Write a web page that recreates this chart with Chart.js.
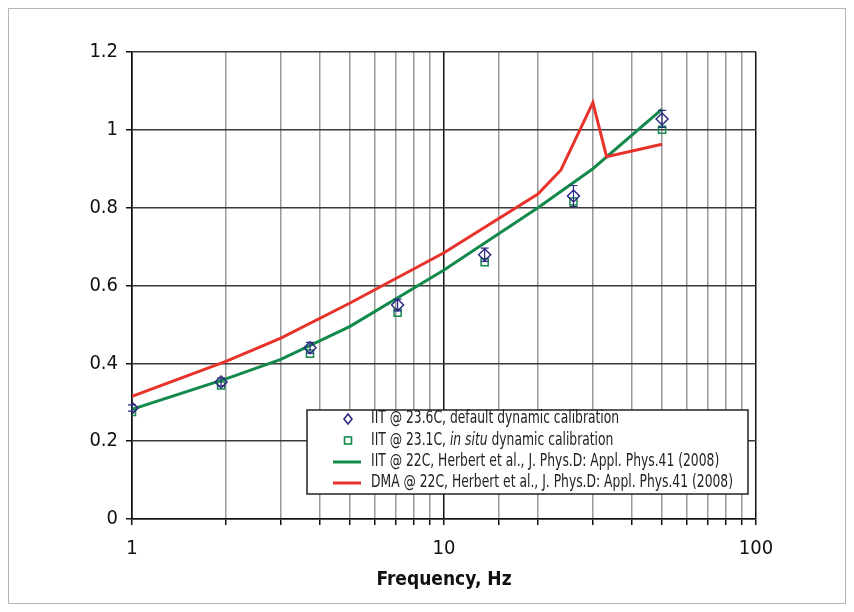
<!DOCTYPE html>
<html>
<head>
<meta charset="utf-8">
<script src="https://cdn.jsdelivr.net/npm/chart.js@4"></script>
<style>
  html, body { margin: 0; padding: 0; background: #fff; }
  #wrap { position: relative; width: 854px; height: 612px; }
  #frame { position: absolute; left: 8px; top: 8px; width: 836px; height: 594px; border: 1px solid #b5b5b5; pointer-events: none; }
</style>
</head>
<body>
<div id="wrap">
  <canvas id="freqChart" width="854" height="612"></canvas>
  <div id="frame"></div>
</div>
<script>
// measured IIT points (frequency, Hz)
const freqIIT = [1, 1.93, 3.72, 7.1, 13.5, 26, 50];
const iitDefault = [0.285, 0.352, 0.44, 0.55, 0.679, 0.83, 1.028];
const iitDefaultErr = [0.008, 0.01, 0.014, 0.015, 0.017, 0.027, 0.022];
const iitInSitu = [0.275, 0.343, 0.425, 0.53, 0.66, 0.816, 1.0];

// Herbert et al. curves
const freqHerbertIIT = [1, 2, 3, 5, 10, 20, 30, 50];
const herbertIIT = [0.282, 0.36, 0.41, 0.495, 0.64, 0.8, 0.9, 1.053];
const freqDMA = [1, 2, 3, 5, 10, 20, 23.7, 30, 33.2, 50];
const herbertDMA = [0.315, 0.405, 0.465, 0.555, 0.684, 0.835, 0.897, 1.07, 0.931, 0.963];

const decadeTicks = [1, 10, 100];
const yTicks = [0, 0.2, 0.4, 0.6, 0.8, 1, 1.2];

const labels = [
  'IIT @ 23.6C, default dynamic calibration',
  'IIT @ 23.1C, in situ dynamic calibration',
  'IIT @ 22C, Herbert et al., J. Phys.D: Appl. Phys.41 (2008)',
  'DMA @ 22C, Herbert et al., J. Phys.D: Appl. Phys.41 (2008)'
];

const NAVY = '#2c2a80';
const GREEN = '#138a4b';
const RED = '#e8332d';
const FONT = "'Liberation Sans Narrow', 'DejaVu Sans Condensed', 'Liberation Sans', sans-serif";

const pts = (xs, ys) => xs.map((x, i) => ({ x, y: ys[i] }));

// error bars on the default calibration points
const errorBars = {
  id: 'errorBars',
  afterDatasetsDraw(chart) {
    const { ctx, scales: { x, y } } = chart;
    ctx.save();
    ctx.strokeStyle = NAVY;
    ctx.lineWidth = 1.2;
    freqIIT.forEach((f, i) => {
      const px = x.getPixelForValue(f);
      const top = y.getPixelForValue(iitDefault[i] + iitDefaultErr[i]);
      const bot = y.getPixelForValue(iitDefault[i] - iitDefaultErr[i]);
      ctx.beginPath();
      ctx.moveTo(px, top); ctx.lineTo(px, bot);
      ctx.moveTo(px - 4, top); ctx.lineTo(px + 4, top);
      ctx.moveTo(px - 4, bot); ctx.lineTo(px + 4, bot);
      ctx.stroke();
    });
    ctx.restore();
  }
};

// boxed legend inside the plot
const boxLegend = {
  id: 'boxLegend',
  afterDraw(chart) {
    const { ctx } = chart;
    const bx = 307, by = 410, bw = 441, bh = 84;
    ctx.save();
    ctx.fillStyle = '#fff';
    ctx.fillRect(bx, by, bw, bh);
    ctx.strokeStyle = '#222';
    ctx.lineWidth = 1.5;
    ctx.strokeRect(bx, by, bw, bh);
    const rows = [419, 440.5, 462, 483];
    const mx = 348, tx = 371;
    // row 1: diamond
    ctx.strokeStyle = NAVY; ctx.lineWidth = 1.6;
    ctx.beginPath();
    ctx.moveTo(mx, rows[0] - 5); ctx.lineTo(mx + 4, rows[0]);
    ctx.lineTo(mx, rows[0] + 5); ctx.lineTo(mx - 4, rows[0]); ctx.closePath();
    ctx.stroke();
    // row 2: square
    ctx.strokeStyle = GREEN;
    ctx.strokeRect(mx - 3.5, rows[1] - 3.5, 7, 7);
    // rows 3/4: lines
    [[GREEN, rows[2]], [RED, rows[3]]].forEach(([c, ry]) => {
      ctx.strokeStyle = c; ctx.lineWidth = 3;
      ctx.beginPath(); ctx.moveTo(333, ry); ctx.lineTo(361, ry); ctx.stroke();
    });
    const reg = '17px ' + FONT, ita = 'italic 17px ' + FONT;
    ctx.font = reg;
    const sx = 362 / ctx.measureText(labels[3]).width;
    ctx.textBaseline = 'middle';
    ctx.fillStyle = '#222';
    ctx.translate(tx, 0);
    ctx.scale(sx, 1);
    ctx.fillText(labels[0], 0, rows[0]);
    // row 2 with italic "in situ"
    let cx = 0;
    const parts = [['IIT @ 23.1C, ', reg], ['in situ', ita], [' dynamic calibration', reg]];
    parts.forEach(([t, f]) => { ctx.font = f; ctx.fillText(t, cx, rows[1]); cx += ctx.measureText(t).width; });
    ctx.font = reg;
    ctx.fillText(labels[2], 0, rows[2]);
    ctx.fillText(labels[3], 0, rows[3]);
    ctx.restore();
  }
};

new Chart(document.getElementById('freqChart'), {
  type: 'scatter',
  data: {
    datasets: [
      {
        label: labels[0],
        data: pts(freqIIT, iitDefault),
        pointStyle: 'rectRot',
        pointRadius: 6,
        borderColor: NAVY,
        backgroundColor: 'rgba(0,0,0,0)',
        pointBorderWidth: 1.5,
        order: 0
      },
      {
        label: labels[1],
        data: pts(freqIIT, iitInSitu),
        pointStyle: 'rect',
        pointRadius: 5,
        borderColor: GREEN,
        backgroundColor: 'rgba(0,0,0,0)',
        pointBorderWidth: 1.5,
        order: 1
      },
      {
        label: labels[2],
        data: pts(freqHerbertIIT, herbertIIT),
        showLine: true,
        borderColor: GREEN,
        borderWidth: 3,
        pointRadius: 0,
        order: 3
      },
      {
        label: labels[3],
        data: pts(freqDMA, herbertDMA),
        showLine: true,
        borderColor: RED,
        borderWidth: 3,
        pointRadius: 0,
        order: 2
      }
    ]
  },
  options: {
    responsive: false,
    animation: false,
    layout: { padding: { left: 0, right: 98, top: 52, bottom: 0 } },
    plugins: {
      legend: { display: false },
      tooltip: { enabled: false }
    },
    scales: {
      x: {
        type: 'logarithmic',
        min: 1,
        max: 100,
        afterFit: s => { s.height = 93; },
        border: { color: '#111', width: 1.5 },
        grid: {
          color: c => decadeTicks.includes(c.tick && c.tick.value) ? '#111' : '#9a9a9a',
          lineWidth: 1.5,
          tickLength: 6,
          tickColor: '#111'
        },
        ticks: {
          autoSkip: false,
          maxRotation: 0,
          padding: 12,
          color: '#111',
          font: { family: FONT, size: 20 },
          callback: v => decadeTicks.includes(v) ? String(v) : ''
        },
        title: {
          display: true,
          text: 'Frequency, Hz',
          color: '#111',
          font: { family: FONT, size: 19, weight: 'bold' },
          padding: { top: 0, bottom: 21 }
        }
      },
      y: {
        min: 0,
        max: 1.2,
        afterFit: s => { s.width = 132; },
        afterBuildTicks: s => { s.ticks = yTicks.map(v => ({ value: v })); },
        border: { color: '#111', width: 1.5 },
        grid: {
          color: '#3a3a3a',
          lineWidth: 1.5,
          tickLength: 6,
          tickColor: '#111'
        },
        ticks: {
          padding: 8,
          color: '#111',
          font: { family: FONT, size: 20 },
          callback: v => String(v)
        }
      }
    }
  },
  plugins: [errorBars, boxLegend]
});
</script>
</body>
</html>
